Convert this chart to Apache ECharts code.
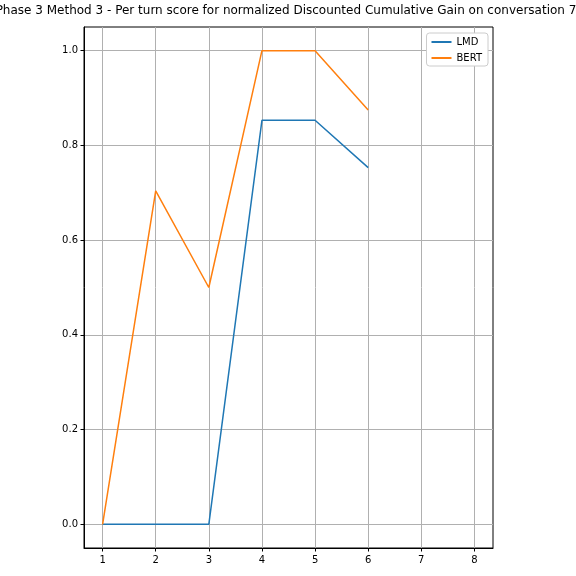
<!DOCTYPE html>
<html><head><meta charset="utf-8">
<script src="https://cdn.jsdelivr.net/npm/echarts@6/dist/echarts.min.js"></script>
<style>html,body{margin:0;padding:0;background:#fff}#c{width:576px;height:576px}</style>
</head><body><div id="c"></div>
<script>
const titleText = 'Phase 3 Method 3 - Per turn score for normalized Discounted Cumulative Gain on conversation 7';
const turns = [1, 2, 3, 4, 5, 6];
const lmd = [0, 0, 0, 0.853, 0.853, 0.753];
const bert = [0, 0.704, 0.5, 1.0, 1.0, 0.875];
const xTicks = [1, 2, 3, 4, 5, 6, 7, 8];
const yTicks = [0, 0.2, 0.4, 0.6, 0.8, 1.0];

const chart = echarts.init(document.getElementById('c'), null, {renderer: 'canvas'});
const font = 'DejaVu Sans';
chart.setOption({
  animation: false,
  graphic: [{type: 'text', x: 286, y: 5, silent: true,
    style: {text: titleText, textAlign: 'center', textVerticalAlign: 'top',
      font: '12px "DejaVu Sans"', fill: '#000'}}],
  grid: {left: 84, right: 83, top: 27, bottom: 28, show: true, borderColor: '#000', borderWidth: 1, containLabel: false},
  legend: {right: 88, top: 33, orient: 'vertical', data: ['LMD', 'BERT'],
    itemWidth: 20, itemHeight: 2, itemGap: 6, icon: 'rect',
    backgroundColor: '#fff', borderColor: '#ccc', borderWidth: 1, borderRadius: 3, padding: [4, 6, 3, 5],
    textStyle: {fontFamily: font, fontSize: 10, color: '#000'}},
  xAxis: {type: 'value', min: 0.65, max: 8.35,
    axisLine: {show: true, onZero: false, lineStyle: {color: '#000'}},
    axisTick: {show: true, length: 3.5, customValues: xTicks, lineStyle: {color: '#000'}},
    axisLabel: {customValues: xTicks, fontFamily: font, fontSize: 10, color: '#000', margin: 7,
      formatter: v => String(v)},
    splitLine: {show: true, lineStyle: {color: '#b0b0b0', width: 1}}},
  yAxis: {type: 'value', min: -0.05, max: 1.05,
    axisLine: {show: true, onZero: false, lineStyle: {color: '#000'}},
    axisTick: {show: true, length: 3.5, customValues: yTicks, lineStyle: {color: '#000'}},
    axisLabel: {customValues: yTicks, fontFamily: font, fontSize: 10, color: '#000', margin: 6,
      formatter: v => v.toFixed(1)},
    splitLine: {show: true, lineStyle: {color: '#b0b0b0', width: 1}}},
  series: [
    {name: 'LMD', type: 'line', data: turns.map((t, i) => [t, lmd[i]]), symbol: 'none',
      lineStyle: {color: '#1f77b4', width: 1.5}, itemStyle: {color: '#1f77b4'}},
    {name: 'BERT', type: 'line', data: turns.map((t, i) => [t, bert[i]]), symbol: 'none',
      lineStyle: {color: '#ff7f0e', width: 1.5}, itemStyle: {color: '#ff7f0e'}}
  ]
});
</script></body></html>
